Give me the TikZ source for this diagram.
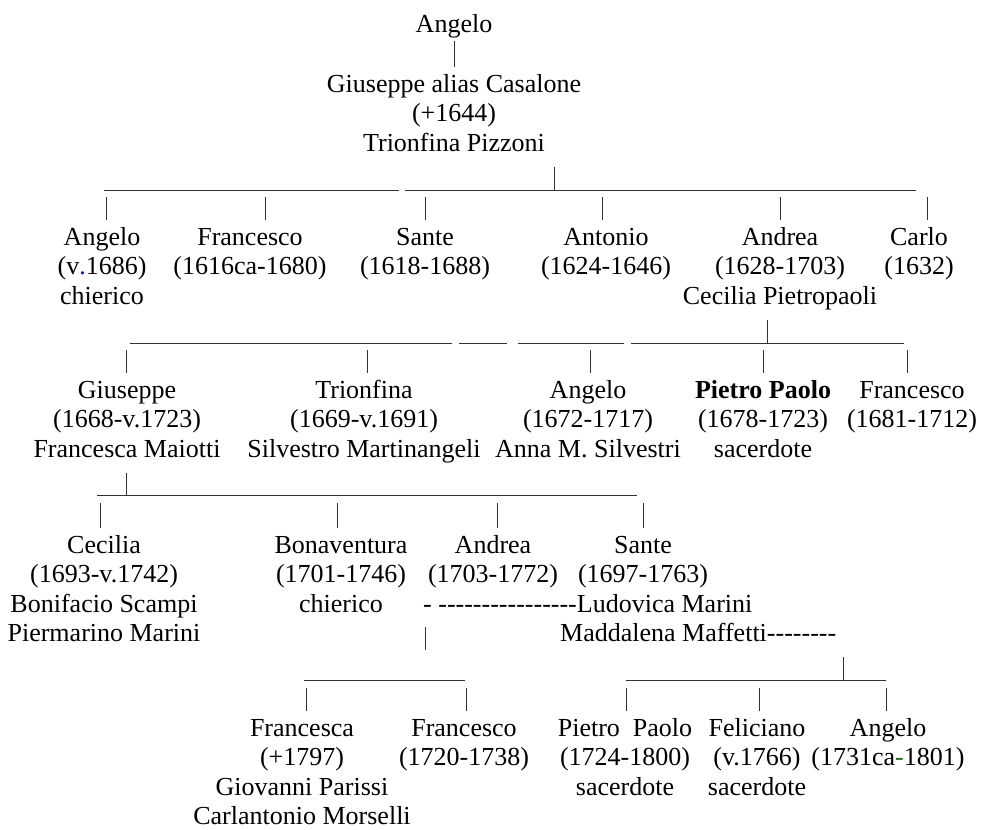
\documentclass[tikz,border=0pt]{standalone}
\usepackage{fontspec}
\setmainfont{Liberation Serif}[Ligatures=TeXOff]
\definecolor{dkgreen}{RGB}{0,128,0}
\begin{document}
\begin{tikzpicture}[x=1pt,y=-1pt,
every node/.style={font=\fontsize{26}{29.5}\selectfont,inner sep=0pt},
person/.style={align=center,anchor=north,yshift=20.65pt},
spouse/.style={anchor=base west},
rule/.style={line width=1pt,black!80},
bar/.style={rule,shorten >=4.5pt}]
\useasboundingbox[fill=white](0,0)rectangle(984,829);
\node[person](ang1)at(454,32){\strut Angelo};
\node[person](gius1)at(454,92){\strut Giuseppe alias Casalone\\(+1644)\\Trionfina Pizzoni};
\draw[bar](ang1.south)--(gius1.north);
\coordinate(fam1)at(554,190);
\draw[rule](fam1)--++(0,-23);
\draw[rule](104,190)--(399,190)(405,190)--(916,190);
\node[person](ang2)at(102,245){\strut Angelo\\(v{\color{blue}.}1686)\\chierico};
\node[person](fra2)at(250,245){\strut Francesco\\(1616ca-1680)};
\node[person](san2)at(425,245){\strut Sante\\(1618-1688)};
\node[person](ant2)at(606,245){\strut Antonio\\(1624-1646)};
\node[person](and2)at(780,245){\strut Andrea\\(1628-1703)\\Cecilia Pietropaoli};
\node[person](car2)at(919,245){\strut Carlo\\(1632)};
\foreach \x/\n in {106/ang2,265/fra2,425/san2,602/ant2,780/and2,927/car2}
  \draw[bar](\x,197)--(\x,197|-\n.north);
\coordinate(fam2)at(767,343);
\draw[rule](fam2)--++(0,-23);
\draw[rule](130,343)--(452,343)(459,343)--(507,343)(518,343)--(624,343)(631,343)--(904,343);
\node[person](gius3)at(127,398){\strut Giuseppe\\(1668-v.1723)\\Francesca Maiotti};
\node[person](tri3)at(364,398){\strut Trionfina\\(1669-v.1691)\\Silvestro Martinangeli};
\node[person](ang3)at(588,398){\strut Angelo\\(1672-1717)\\Anna M. Silvestri};
\node[person](pie3)at(763,398){\strut\textbf{Pietro Paolo}\\(1678-1723)\\sacerdote};
\node[person](fra3)at(912,398){\strut Francesco\\(1681-1712)};
\foreach \x/\n in {126/gius3,367/tri3,590/ang3,763/pie3,907/fra3}
  \draw[bar](\x,350)--(\x,350|-\n.north);
\coordinate(fam3)at(126,495);
\draw[rule](fam3)--++(0,-22);
\draw[rule](97,495)--(637,495);
\node[person](cec4)at(104,553){\strut Cecilia\\(1693-v.1742)\\Bonifacio Scampi\\Piermarino Marini};
\node[person](bon4)at(341,553){\strut Bonaventura\\(1701-1746)\\chierico};
\node[person](and4)at(493,553){\strut Andrea\\(1703-1772)};
\node[person](san4)at(643,553){\strut Sante\\(1697-1763)};
\foreach \x/\n in {100/cec4,337/bon4,497/and4,643/san4}
  \draw[bar](\x,503)--(\x,503|-\n.north);
\node[spouse](lud4)at(423,612){- ----------------Ludovica Marini};
\node[spouse](mad4)at(560,641.5){Maddalena Maffetti--------};
\coordinate(fam4a)at(425,650);
\draw[rule](fam4a)--++(0,-23);
\coordinate(fam4b)at(843,680);
\draw[rule](fam4b)--++(0,-23);
\draw[rule](304,680)--(465,680)(626,680)--(886,680);
\node[person](fra5)at(302,736){\strut Francesca\\(+1797)\\Giovanni Parissi\\Carlantonio Morselli};
\node[person](frc5)at(464,736){\strut Francesco\\(1720-1738)};
\node[person](pie5)at(625,736){\strut Pietro\ \ Paolo\\(1724-1800)\\sacerdote};
\node[person](fel5)at(757,736){\strut Feliciano\\(v.1766)\\sacerdote};
\node[person](ang5)at(888,736){\strut Angelo\\(1731ca{\color{dkgreen}-}1801)};
\foreach \x/\n in {306/fra5,466/frc5,626/pie5,759/fel5,886/ang5}
  \draw[bar](\x,688)--(\x,688|-\n.north);
\end{tikzpicture}
\end{document}
